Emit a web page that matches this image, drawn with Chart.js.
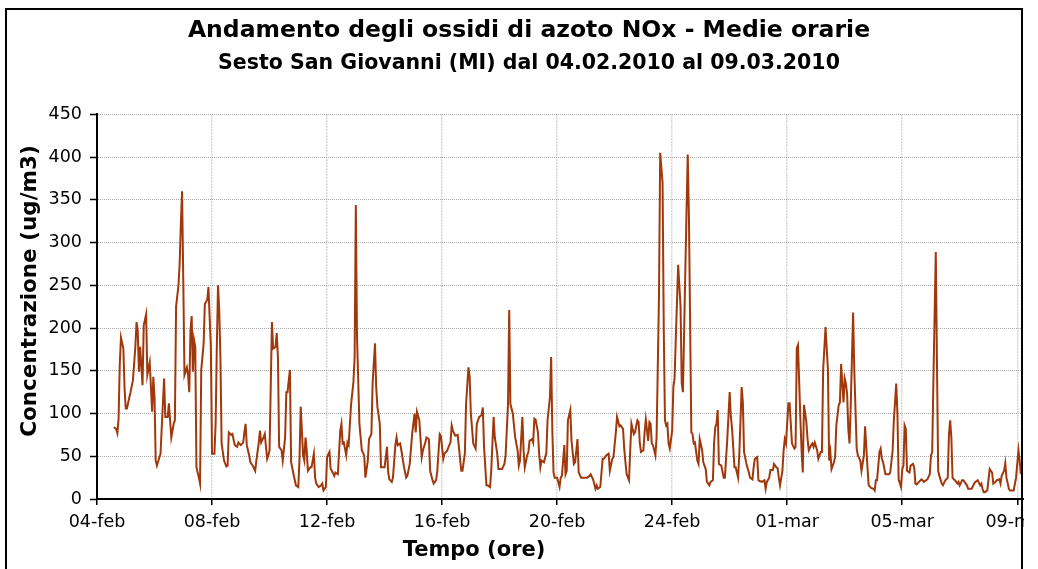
<!DOCTYPE html>
<html>
<head>
<meta charset="utf-8">
<script src="https://cdn.jsdelivr.net/npm/chart.js@4"></script>
<style>
  html, body { margin: 0; padding: 0; background: #fff; }
  /* the chart object is cut at its right border */
  #wrap { position: relative; width: 1024px; height: 569px; overflow: hidden; }
</style>
</head>
<body>
<div id="wrap"><canvas id="noxChart" width="1058" height="569"></canvas></div>
<script>
// hourly NOx averages, Sesto San Giovanni, 04.02.2010 - 09.03.2010
// x = hours from the start of 04-feb, y = ug/m3
const hours = [
  14, 16, 17, 18, 19, 20, 22, 23, 24, 25, 27, 28, 30, 32, 33, 34, 35, 36, 38, 39,
  41, 42, 44, 46, 47, 48, 49, 50, 53, 56, 57, 59, 60, 62, 64, 65, 66, 68, 69, 70,
  71, 72, 73, 75, 76, 77, 78, 79, 80, 81, 82, 83, 85, 86, 87, 89, 90, 92, 93, 95,
  96, 98, 99, 100, 101, 102, 103, 104, 106, 108, 109, 110, 112, 113, 115, 117, 118, 120, 122, 123,
  124, 125, 127, 128, 130, 132, 133, 135, 136, 137, 139, 140, 142, 143, 144, 146, 147, 149, 150, 151,
  152, 154, 155, 157, 158, 159, 161, 162, 164, 166, 168, 169, 170, 172, 173, 174, 175, 176, 178, 179,
  181, 182, 183, 185, 187, 188, 189, 191, 192, 194, 195, 196, 198, 199, 201, 203, 204, 205, 206, 208,
  209, 210, 212, 214, 215, 216, 217, 219, 221, 223, 224, 226, 227, 229, 230, 232, 233, 234, 236, 237,
  239, 240, 242, 243, 244, 246, 247, 249, 250, 251, 253, 254, 256, 258, 259, 261, 263, 265, 266, 267,
  269, 271, 272, 274, 275, 277, 278, 280, 281, 283, 284, 286, 287, 289, 290, 292, 294, 295, 296, 297,
  299, 301, 302, 304, 305, 307, 308, 310, 311, 312, 314, 316, 317, 319, 321, 322, 323, 325, 326, 328,
  329, 331, 332, 334, 335, 336, 338, 340, 341, 343, 344, 345, 347, 348, 349, 351, 352, 353, 355, 356,
  357, 359, 360, 361, 363, 364, 365, 366, 368, 369, 370, 371, 373, 375, 376, 378, 379, 380, 381, 382,
  384, 386, 387, 388, 390, 391, 392, 393, 395, 396, 398, 399, 401, 402, 404, 406, 407, 409, 411, 412,
  414, 416, 417, 418, 420, 422, 423, 425, 427, 428, 430, 431, 433, 434, 436, 437, 439, 440, 441, 442,
  444, 445, 446, 448, 449, 451, 452, 453, 454, 456, 457, 458, 460, 461, 462, 463, 464, 466, 467, 469,
  470, 472, 473, 474, 475, 476, 477, 478, 480, 481, 482, 483, 485, 487, 488, 489, 490, 492, 493, 494,
  496, 497, 498, 499, 501, 502, 503, 505, 506, 508, 509, 511, 512, 514, 515, 516, 517, 518, 519, 521,
  523, 524, 526, 528, 529, 530, 532, 533, 535, 536, 538, 539, 540, 542, 544, 545, 547, 548, 549, 551,
  552, 553, 555, 557, 558, 559, 561, 562, 564, 565, 567, 568, 569, 570, 572, 573, 574, 575, 577, 578,
  579, 580, 582, 583, 584, 585, 587, 588, 589, 590, 592, 593, 594, 596, 597, 598, 599, 601, 602, 604,
  605, 606, 608, 610, 611, 612, 613, 615, 616, 617, 619, 620, 621, 622, 623, 624, 625, 626, 627, 628,
  629, 631, 632, 634, 635, 637, 638, 640, 641, 643, 644, 646, 648, 649, 650, 651, 653, 654, 655, 656,
  658, 659, 661, 662, 664, 665, 667, 668, 669, 671, 672, 673, 674, 675, 676, 678, 679, 681, 682, 683,
  684, 686, 688, 689, 690, 692, 693, 695, 696, 697, 698, 700, 701, 702, 703, 705, 706, 708, 710, 711,
  712, 713, 714, 715, 716, 718, 719, 720, 722, 723, 725, 726, 727, 729, 730, 732, 733, 735, 737, 738,
  739, 740, 741, 743, 745, 747, 748, 750, 751, 753, 754, 755, 757, 758, 759, 761, 762, 764, 765, 767,
  769, 770, 771
];
const nox = [
  84, 82, 77, 94, 158, 189, 176, 129, 106, 106, 119, 125, 139, 178, 207, 197, 149, 178, 133, 203,
  216, 145, 160, 102, 143, 119, 45, 39, 53, 141, 96, 96, 112, 72, 88, 92, 225, 250, 276, 323,
  360, 256, 145, 154, 145, 125, 197, 214, 149, 186, 178, 37, 25, 18, 151, 182, 228, 233, 248, 178,
  53, 53, 88, 178, 250, 221, 166, 65, 45, 38, 39, 78, 75, 76, 63, 61, 66, 63, 66, 78,
  88, 63, 51, 43, 39, 33, 45, 66, 80, 66, 72, 76, 47, 51, 57, 207, 176, 178, 194, 166,
  61, 57, 45, 72, 125, 125, 151, 43, 29, 16, 14, 47, 108, 51, 45, 72, 57, 33, 37, 37,
  53, 25, 18, 14, 16, 18, 10, 14, 49, 55, 35, 33, 27, 31, 29, 80, 88, 65, 66, 51,
  66, 63, 110, 137, 166, 344, 190, 88, 57, 51, 25, 45, 70, 76, 135, 182, 131, 108, 88, 37,
  37, 37, 61, 31, 23, 20, 25, 63, 72, 63, 65, 57, 39, 25, 27, 41, 76, 100, 78, 102,
  92, 49, 57, 66, 72, 70, 33, 22, 18, 22, 33, 76, 74, 47, 53, 56, 63, 66, 86, 80,
  74, 75, 61, 33, 33, 53, 111, 154, 143, 100, 65, 59, 88, 96, 98, 107, 61, 16, 16, 14,
  33, 96, 72, 53, 35, 35, 35, 41, 51, 111, 221, 111, 100, 86, 72, 57, 39, 45, 96, 57,
  37, 51, 55, 68, 70, 66, 94, 93, 78, 53, 37, 45, 43, 54, 92, 119, 166, 80, 31, 25,
  25, 14, 25, 27, 63, 29, 33, 92, 104, 68, 41, 43, 70, 31, 25, 25, 25, 25, 27, 29,
  23, 12, 16, 12, 14, 47, 47, 51, 53, 33, 47, 49, 78, 96, 85, 86, 82, 59, 43, 29,
  22, 57, 88, 76, 78, 92, 90, 65, 55, 57, 78, 93, 68, 90, 88, 65, 63, 51, 72, 237,
  405, 370, 197, 92, 86, 88, 65, 59, 80, 131, 141, 186, 274, 225, 135, 125, 197, 338, 403, 330,
  78, 76, 65, 66, 45, 41, 70, 57, 43, 35, 20, 16, 20, 22, 66, 84, 88, 104, 41, 39,
  25, 25, 70, 125, 96, 82, 37, 37, 25, 51, 131, 113, 55, 41, 31, 25, 23, 37, 47, 49,
  22, 21, 20, 22, 12, 20, 25, 34, 34, 41, 37, 36, 25, 16, 33, 57, 70, 65, 112, 112,
  88, 65, 59, 61, 176, 180, 94, 57, 31, 110, 90, 70, 57, 63, 65, 61, 66, 57, 47, 55,
  55, 151, 201, 151, 45, 55, 35, 43, 49, 86, 110, 113, 158, 135, 113, 141, 135, 123, 82, 65,
  108, 218, 151, 59, 51, 45, 33, 51, 85, 37, 16, 13, 12, 10, 22, 22, 55, 59, 47, 43,
  29, 29, 29, 31, 57, 92, 135, 100, 23, 14, 35, 39, 86, 82, 33, 31, 39, 41, 37, 18,
  17, 20, 23, 22, 20, 22, 23, 29, 51, 55, 137, 289, 158, 33, 27, 18, 16, 22, 25, 76,
  92, 72, 25, 23, 22, 18, 20, 16, 22, 22, 18, 16, 12, 12, 12, 18, 20, 22, 16, 18,
  12, 8, 8, 10, 35, 31, 18, 20, 22, 23, 18, 27, 33, 42, 25, 12, 10, 10, 10, 25,
  57, 45, 29
];

// axis labels, one every 4 days (96 h)
const dateLabels = ['04-feb', '08-feb', '12-feb', '16-feb', '20-feb', '24-feb', '01-mar', '05-mar', '09-mar'];
const HOURS_PER_LABEL = 96;
const yTicks = [0, 50, 100, 150, 200, 250, 300, 350, 400, 450];

const xTitle = 'Tempo (ore)';
const yTitle = 'Concentrazione (ug/m3)';

const FONT = "'DejaVu Sans', 'Verdana', sans-serif";

// outer border of the chart object (right side falls inside the plot)
const frame = {
  id: 'frame',
  afterDraw(chart) {
    const ctx = chart.ctx;
    ctx.save();
    ctx.strokeStyle = '#000';
    ctx.lineWidth = 2;
    ctx.strokeRect(6, 9, 1016, 600);
    ctx.restore();
  }
};

// axis titles sit off the plot centre, so they are placed by hand
const axisTitles = {
  id: 'axisTitles',
  afterDraw(chart) {
    const ctx = chart.ctx;
    ctx.save();
    ctx.fillStyle = '#000';
    ctx.textAlign = 'center';
    ctx.textBaseline = 'middle';
    ctx.font = 'bold 21px ' + FONT;
    ctx.fillText(xTitle, 474, 551);
    ctx.font = 'bold 21.5px ' + FONT;
    ctx.translate(30, 291);
    ctx.rotate(-Math.PI / 2);
    ctx.fillText(yTitle, 0, 0);
    ctx.restore();
  }
};

new Chart(document.getElementById('noxChart'), {
  type: 'line',
  data: {
    datasets: [{
      label: 'NOx',
      data: hours.map((h, i) => ({ x: h, y: nox[i] })),
      borderColor: '#a0380c',
      borderWidth: 2,
      pointRadius: 0,
      tension: 0,
      fill: false
    }]
  },
  options: {
    responsive: false,
    animation: false,
    layout: { padding: 0 },
    plugins: {
      legend: { display: false },
      tooltip: { enabled: false },
      title: {
        display: true,
        text: 'Andamento degli ossidi di azoto NOx - Medie orarie',
        color: '#000',
        font: { family: FONT, size: 23.5, weight: 'bold' },
        padding: { top: 17, bottom: 4 }
      },
      subtitle: {
        display: true,
        text: 'Sesto San Giovanni (MI) dal 04.02.2010 al 09.03.2010',
        color: '#000',
        font: { family: FONT, size: 20.5, weight: 'bold' },
        padding: { top: 2, bottom: 38.5 }
      }
    },
    scales: {
      x: {
        type: 'linear',
        min: 0,
        max: 802,
        afterBuildTicks: s => { s.ticks = dateLabels.map((_, i) => ({ value: i * HOURS_PER_LABEL })); },
        afterFit: s => { s.height = 70; s.paddingLeft = 0; s.paddingRight = 0; },
        ticks: {
          autoSkip: false,
          maxRotation: 0,
          padding: 7,
          color: '#000',
          font: { family: FONT, size: 17.5 },
          callback: v => dateLabels[Math.round(v / HOURS_PER_LABEL)]
        },
        grid: { color: '#d4d4d4', lineWidth: 1.5, tickColor: '#000', tickLength: 6, tickWidth: 1.5 },
        border: { color: '#000', width: 2, dash: [2, 1] }
      },
      y: {
        min: 0,
        max: 450,
        afterBuildTicks: s => { s.ticks = yTicks.map(v => ({ value: v })); },
        afterFit: s => { s.width = 97; s.paddingTop = 0; s.paddingBottom = 0; },
        ticks: {
          padding: 8,
          color: '#000',
          font: { family: FONT, size: 17.5 }
        },
        grid: { color: '#a8a8a8', lineWidth: 1, tickColor: '#000', tickLength: 7, tickWidth: 1.5 },
        border: { color: '#000', width: 2, dash: [1, 1] }
      }
    }
  },
  plugins: [frame, axisTitles]
});
</script>
</body>
</html>
